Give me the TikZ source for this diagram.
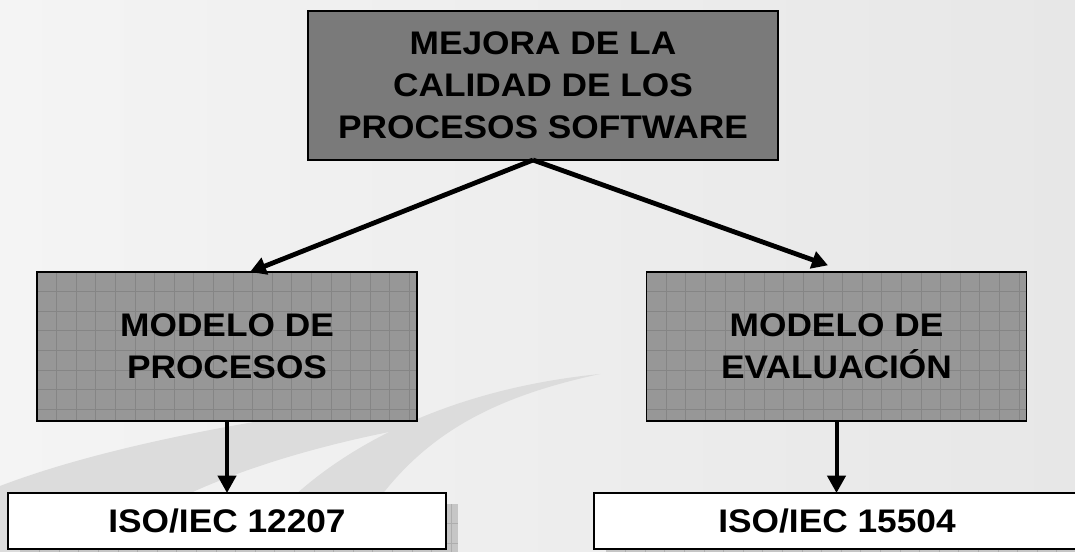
\documentclass[tikz,border=0pt]{standalone}
\usepackage{fontspec}
\newfontfamily\bx[FakeStretch=1.08]{Liberation Sans}
\usetikzlibrary{arrows.meta}
\pgfdeclarelayer{bg}
\pgfdeclarelayer{shd}
\pgfsetlayers{bg,shd,main}
\definecolor{topgray}{HTML}{7A7A7A}
\definecolor{midgray}{HTML}{979797}
\definecolor{gridgray}{HTML}{858585}
\definecolor{shadowgray}{HTML}{C6C6C6}
\definecolor{shadowgrid}{HTML}{AEAEAE}
\definecolor{bgA}{HTML}{F4F4F4}
\definecolor{bgB}{HTML}{E7E7E7}
\definecolor{band}{HTML}{DCDCDC}
\begin{document}
\begin{tikzpicture}[x=0.75pt,y=-0.75pt,
  txt/.style={font=\bx\bfseries\fontsize{24.5}{31.5}\selectfont, align=center, text=black,
    inner sep=0pt, outer sep=0pt},
  gridpic/.style={path picture={
    \foreach \i in {1,...,26}{\draw[#1, line width=0.6pt]
      ([xshift=\i*14.7pt]path picture bounding box.north west) --
      ([xshift=\i*14.7pt]path picture bounding box.south west);}
    \foreach \j in {1,...,8}{\draw[#1, line width=0.6pt]
      ([yshift=-\j*14.7pt]path picture bounding box.north west) --
      ([yshift=-\j*14.7pt]path picture bounding box.north east);}
  }},
  topbox/.style={txt, draw=black, line width=0.9pt, fill=topgray,
    minimum width=352.5pt, minimum height=111.75pt},
  midbox/.style={txt, draw=black, line width=0.9pt, fill=midgray, gridpic=gridgray,
    minimum width=285pt, minimum height=111.75pt},
  isobox/.style={txt, draw=black, line width=1.4pt, fill=white, minimum height=42pt},
  shadowbox/.style={fill=shadowgray, gridpic=shadowgrid},
  arr/.style={line width=3pt, -{Triangle[length=13pt,width=13.5pt]}},
  diag/.style={line width=3.6pt, -{Triangle[length=12pt,width=13pt]}}
]
\useasboundingbox (0,0) rectangle (1075,552);

\begin{pgfonlayer}{bg}
  \shade[left color=bgA, right color=bgB] (0,0) rectangle (1075,552);
  \fill[band] (0,486) .. controls (120,440) and (300,412) .. (410,400)
     -- (410,428) .. controls (300,448) and (160,490) .. (100,552)
     -- (0,552) -- cycle;
  \fill[band] (245,552) .. controls (300,470) and (420,392) .. (600,374)
     .. controls (470,402) and (400,450) .. (345,552) -- cycle;
\end{pgfonlayer}

\node[topbox] (top) at (543,85.5) {MEJORA DE LA\\CALIDAD DE LOS\\PROCESOS SOFTWARE};
\node[midbox] (lm) at (227,346.5) {MODELO DE\\PROCESOS};
\node[midbox] (rm) at (836.5,346.5) {MODELO DE\\EVALUACIÓN};
\node[isobox, minimum width=328.5pt] (bl) at (227,521) {ISO/IEC 12207};
\node[isobox, minimum width=364.5pt] (br) at (837,521) {ISO/IEC 15504};

\begin{pgfonlayer}{shd}
  \path[shadowbox] ([shift={(12,11)}]bl.north west) rectangle ([shift={(12,11)}]bl.south east);
  \path[shadowbox] ([shift={(12,11)}]br.north west) rectangle ([shift={(12,11)}]br.south east);
\end{pgfonlayer}

\draw[diag] ([xshift=-7.5pt]top.south) -- ([xshift=17.25pt]lm.north);
\draw[diag] ([xshift=-7.5pt]top.south) -- ([xshift=-6.4pt,yshift=5pt]rm.north);
\draw[arr] (lm.south) -- (bl.north);
\draw[arr] (rm.south) -- (rm.south |- br.north);
\end{tikzpicture}
\end{document}
